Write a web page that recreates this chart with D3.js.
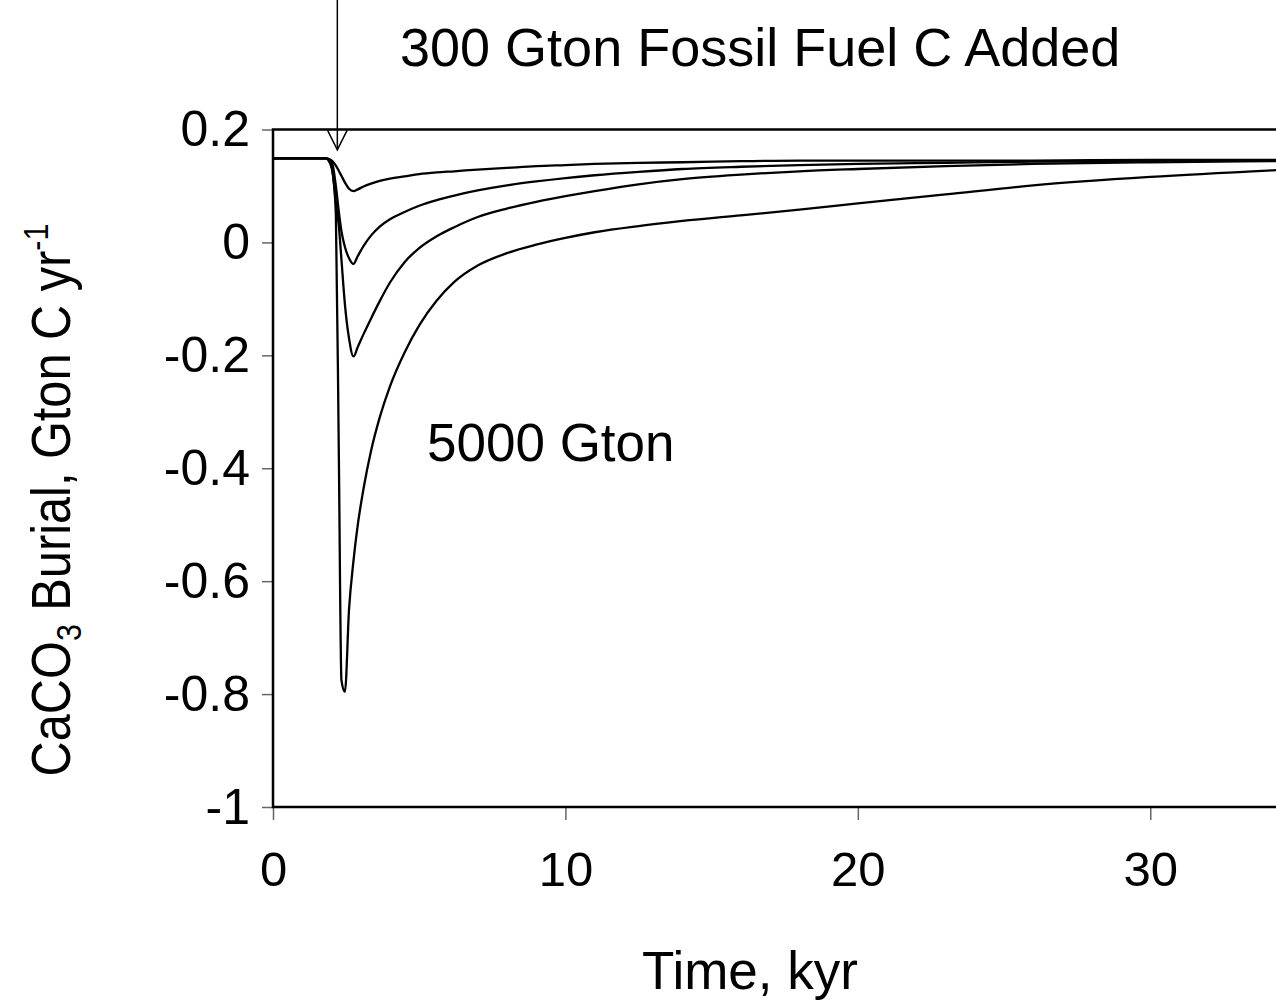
<!DOCTYPE html>
<html>
<head>
<meta charset="utf-8">
<script src="https://cdn.jsdelivr.net/npm/d3@7"></script>
<style>
body { margin: 0; background: #fff; }
text { font-family: "Liberation Sans", Arial, Helvetica, sans-serif; fill: #000; }
</style>
</head>
<body>
<svg id="chart"></svg>
<script>
// Time in kyr, shared by all four runs
var time = [0, 1.8, 1.95, 2.05, 2.15, 2.25, 2.34, 2.46, 2.6, 2.75, 2.9, 3.1, 3.35, 3.65, 4.0, 4.5, 5.0, 5.6, 6.2, 7.0, 8.0, 9.0, 10, 11, 12.5, 14, 16, 18, 20, 23, 26, 30, 34.3];

// CaCO3 burial, Gton C / yr (smallest release on top)
var burial300 = [0.149, 0.149, 0.147, 0.143, 0.136, 0.127, 0.118, 0.106, 0.095, 0.091, 0.094, 0.099, 0.104, 0.109, 0.113, 0.117, 0.121, 0.124, 0.126, 0.129, 0.132, 0.135, 0.137, 0.139, 0.141, 0.142, 0.144, 0.145, 0.145, 0.145, 0.145, 0.146, 0.146];
var burial1000 = [0.149, 0.149, 0.146, 0.135, 0.100, 0.055, 0.020, -0.008, -0.028, -0.038, -0.024, -0.006, 0.012, 0.028, 0.041, 0.054, 0.065, 0.075, 0.083, 0.092, 0.101, 0.108, 0.114, 0.119, 0.125, 0.130, 0.134, 0.137, 0.139, 0.141, 0.143, 0.144, 0.145];
var burial2000 = [0.149, 0.149, 0.145, 0.120, 0.070, 0.030, -0.030, -0.110, -0.170, -0.202, -0.185, -0.162, -0.135, -0.104, -0.071, -0.035, -0.010, 0.011, 0.027, 0.045, 0.060, 0.072, 0.082, 0.091, 0.103, 0.112, 0.120, 0.126, 0.130, 0.135, 0.139, 0.142, 0.144];
var burial5000 = [0.149, 0.149, 0.140, 0.120, 0.050, -0.370, -0.775, -0.796, -0.650, -0.565, -0.500, -0.435, -0.370, -0.310, -0.255, -0.195, -0.147, -0.103, -0.070, -0.041, -0.019, -0.004, 0.008, 0.018, 0.029, 0.038, 0.048, 0.058, 0.069, 0.085, 0.101, 0.116, 0.128];

var series = [burial300, burial1000, burial2000, burial5000];

var xTicks = [0, 10, 20, 30];
var yTicks = [0.2, 0, -0.2, -0.4, -0.6, -0.8, -1];

// where the fossil fuel pulse goes in
var pulseTime = 2.2;

var chartWidth = 1276,
    chartHeight = 1002,
    plotLeft = 273,
    plotTop = 129.5,
    plotBottom = 807;

var chart = d3.select('#chart')
    .attr('width', chartWidth)
    .attr('height', chartHeight);

var xScale = d3.scaleLinear()
    .domain([0, 34.3])
    .range([plotLeft, chartWidth]);

var yScale = d3.scaleLinear()
    .domain([-1, 0.2])
    .range([plotBottom, plotTop]);

function fmt(v) {
    return String(+v.toFixed(1));
}

// y axis, ticks pointing out to the left
var yAxis = chart.append('g')
    .attr('transform', 'translate(' + plotLeft + ',0)')
    .call(d3.axisLeft(yScale).tickValues(yTicks).tickSize(11).tickPadding(12).tickFormat(fmt));
yAxis.select('.domain').remove();
yAxis.selectAll('line').attr('stroke', '#666').attr('stroke-width', 1.5);
yAxis.selectAll('text').style('font-size', '50px');

// x axis
var xAxis = chart.append('g')
    .attr('transform', 'translate(0,' + plotBottom + ')')
    .call(d3.axisBottom(xScale).tickValues(xTicks).tickSize(13).tickPadding(31).tickFormat(d3.format('d')));
xAxis.select('.domain').remove();
xAxis.selectAll('line').attr('stroke', '#666').attr('stroke-width', 1.5);
xAxis.selectAll('text').style('font-size', '49px');

// frame: top, left and bottom edges (right edge runs off the picture)
chart.append('path')
    .attr('d', 'M' + (chartWidth + 5) + ',' + plotTop + 'H' + plotLeft + 'V' + plotBottom + 'H' + (chartWidth + 5))
    .attr('fill', 'none')
    .attr('stroke', '#000')
    .attr('stroke-width', 2.5);

// the four runs
var line = d3.line()
    .x(function(d, i) { return xScale(time[i]); })
    .y(function(d) { return yScale(d); })
    .curve(d3.curveMonotoneX);

chart.append('g')
    .selectAll('path')
    .data(series)
    .enter().append('path')
        .attr('d', line)
        .attr('fill', 'none')
        .attr('stroke', '#000')
        .attr('stroke-width', 2.3)
        .attr('stroke-linejoin', 'round');

// arrow marking the carbon release
var ax = xScale(pulseTime),
    tipY = yScale(0.164);
chart.append('line')
    .attr('x1', ax).attr('x2', ax)
    .attr('y1', 0).attr('y2', tipY)
    .attr('stroke', '#000').attr('stroke-width', 1.5);
chart.append('path')
    .attr('d', 'M' + (ax - 10) + ',' + (tipY - 20) + 'L' + ax + ',' + tipY + 'L' + (ax + 10) + ',' + (tipY - 20))
    .attr('fill', 'none')
    .attr('stroke', '#000')
    .attr('stroke-width', 1.5);

// annotations
chart.append('text')
    .attr('x', 400).attr('y', 66)
    .style('font-size', '54px')
    .text('300 Gton Fossil Fuel C Added');

chart.append('text')
    .attr('x', 427).attr('y', 461)
    .style('font-size', '53px')
    .text('5000 Gton');

// axis titles
chart.append('text')
    .attr('x', 750).attr('y', 989)
    .attr('text-anchor', 'middle')
    .style('font-size', '53px')
    .text('Time, kyr');

var yTitle = chart.append('text')
    .attr('transform', 'translate(70,500) rotate(-90) scale(0.87,1)')
    .attr('text-anchor', 'middle')
    .style('font-size', '56px');
yTitle.append('tspan').text('CaCO');
yTitle.append('tspan').attr('dy', 11).style('font-size', '35px').text('3');
yTitle.append('tspan').attr('dy', -11).text(' Burial, Gton C yr');
yTitle.append('tspan').attr('dy', -22).style('font-size', '35px').text('-1');
</script>
</body>
</html>
